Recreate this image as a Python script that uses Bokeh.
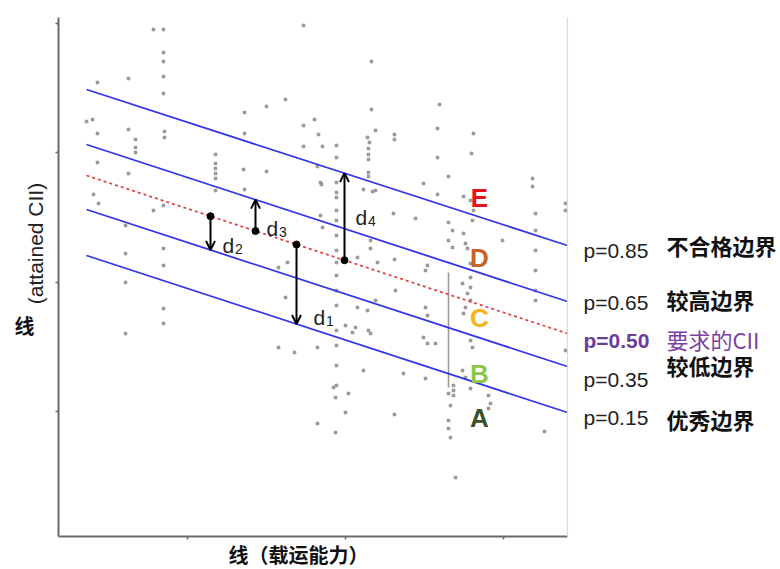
import numpy as np
from bokeh.plotting import figure
from bokeh.models import (Range1d, FixedTicker, CustomJSTickFormatter, LinearAxis,
                          Label, Arrow, OpenHead)
from bokeh.embed import file_html
from bokeh.resources import INLINE

# ---------------- data ----------------
x_ticks = [13.7, 29.5, 45.3]
y_ticks = [13.9, 26.8, 39.8, 52.7]
x_bounds = (0.8, 51.7)
y_bounds = (1.4, 53.3)

band_p = ["p=0.85", "p=0.65", "p=0.50", "p=0.35", "p=0.15"]
band_names = ["不合格边界", "较高边界", "要求的CII", "较低边界", "优秀边界"]
band_x = [3.6, 51.7]
band_y_left = [46.1, 40.6, 37.5, 34.1, 29.5]
band_y_right = [30.5, 24.9, 21.7, 18.4, 13.8]
band_p_y = [30.0, 24.8, 21.0, 17.1, 13.3]
band_name_y = [30.6, 25.2, 21.2, 18.6, 13.2]

# arrows: from the required line (index 2) to another band line
arrow_x = [16.0, 20.5, 24.6, 29.4]
arrow_to = [3, 1, 4, 0]
arrow_sub = ["2", "3", "1", "4"]
arrow_lbl_x = [17.2, 21.6, 26.3, 30.5]
arrow_lbl_y = [30.5, 32.2, 23.3, 33.3]

rating_letters = ["E", "D", "C", "B", "A"]
rating_colors = ["#e8121b", "#c5632a", "#f4b41a", "#8bc84a", "#37512a"]
rating_x = 42.9
rating_y = [35.3, 29.3, 23.3, 17.7, 13.3]

# dense column of ships (drawn as a thin vertical trace)
dense_x = 39.8
dense_y = [16.3, 27.8]

ship_x = [10.3, 11.3, 11.3, 11.3, 11.3, 11.3, 4.7, 7.8, 3.6, 4.2, 4.7, 7.8, 8.5, 8.5, 8.5,
          11.4, 11.4, 4.7, 7.8, 4.3, 16.5, 16.5, 16.5, 16.5, 16.5, 16.5, 19.4, 19.4, 21.6,
          23.5, 19.3, 21.6, 19.4, 25.3, 32.1, 32.1, 38.9, 26.4, 25.3, 26.8, 32.5, 34.4, 34.4,
          31.7, 31.9, 38.7, 42.3, 25.3, 27.2, 28.6, 31.8, 31.8, 31.8, 28.6, 38.7, 42.1, 26.7,
          31.8, 31.8, 39.8, 27.0, 27.1, 28.6, 28.6, 28.6, 31.3, 32.2, 32.5, 37.3, 38.7, 48.2,
          48.2, 41.3, 4.8, 7.5, 10.3, 11.3, 7.5, 11.3, 11.3, 7.5, 11.3, 11.3, 7.5, 22.8, 24.4,
          22.8, 23.7, 23.5,
          28.6, 28.6, 28.6, 28.6, 28.6, 28.6, 28.6, 28.6, 28.6, 28.6, 28.6, 28.6,
          27.0, 27.2, 32.0, 32.0, 34.3, 36.5, 32.7, 30.7, 34.4, 37.7, 37.5, 41.3, 41.5, 41.7,
          42.0, 41.2, 41.7, 42.0,
          48.5, 48.5, 48.5, 48.5, 48.5, 48.5,
          32.5, 34.5, 30.7, 31.7, 37.5, 37.7, 29.5, 30.2, 30.5, 31.8, 32.0, 26.7, 37.3, 38.5,
          42.0, 42.2, 41.2, 41.5, 35.3, 28.3, 28.5, 29.8, 31.3, 29.5, 26.7, 28.5, 34.4,
          39.8, 40.0, 39.8, 39.8, 40.0, 40.3, 40.3, 40.3, 40.5, 43.8, 43.8, 42.0, 49.4,
          42.0, 42.3, 42.2, 39.8, 40.2, 39.8, 40.2, 45.2, 51.5, 51.5, 37.7, 37.5, 42.0, 42.0,
          41.5, 41.3, 51.5, 44.0]
ship_y = [52.1, 52.1, 49.8, 48.9, 47.4, 45.7, 46.8, 47.2, 42.9, 43.1, 41.7, 42.1, 41.1, 40.3, 39.8,
          41.9, 41.3, 38.8, 37.7, 35.6, 39.6, 38.7, 38.2, 37.7, 37.2, 36.0, 43.8, 41.7, 44.4,
          45.1, 38.1, 37.9, 36.1, 52.5, 48.9, 44.1, 44.6, 43.1, 42.5, 41.6, 42.0, 41.6, 41.1,
          41.3, 40.8, 42.2, 41.7, 40.4, 40.4, 40.5, 40.2, 39.6, 39.1, 39.3, 39.3, 39.7, 38.4,
          37.8, 37.4, 37.4, 36.8, 36.6, 36.8, 35.8, 35.3, 36.1, 35.9, 36.0, 36.7, 35.6, 37.2,
          36.4, 35.4, 34.7, 32.5, 34.0, 34.5, 29.7, 30.2, 28.5, 26.8, 24.2, 22.7, 21.7, 20.3, 19.8,
          28.3, 28.8, 25.3,
          34.0, 33.0, 31.5, 30.0, 28.8, 27.5, 26.0, 24.5, 22.0, 20.5, 18.5, 16.5,
          33.5, 32.3, 31.0, 30.2, 33.7, 33.2, 28.8, 29.3, 29.1, 28.5, 28.0, 31.7, 30.7, 30.2,
          28.7, 26.7, 25.7, 25.0,
          33.7, 32.0, 30.0, 28.0, 26.0, 25.0,
          25.0, 26.0, 24.3, 24.0, 24.3, 23.5, 22.5, 21.8, 22.3, 22.0, 21.7, 20.3, 21.3, 20.7,
          21.0, 20.3, 18.0, 17.3, 17.7, 16.3, 15.3, 15.7, 18.0, 13.8, 12.7, 11.8, 13.6,
          15.7, 14.5, 13.0, 12.2, 11.3, 16.5, 16.0, 15.5, 7.3, 15.5, 14.2, 16.2, 11.9,
          35.0, 34.0, 33.0, 32.8, 32.0, 31.0, 30.3, 31.0, 34.7, 34.0, 20.7, 17.2, 27.3, 26.3,
          24.3, 23.7, 20.0, 14.7]

x_label = "线（载运能力）"
y_label_cn = "线"
y_label_en = "(attained CII)"

# ---------------- figure ----------------
# the frame covers the whole canvas so that texts beside the axes are not clipped;
# the axes are drawn at fixed data locations
W, H = 780, 569
p = figure(width=W, height=H, output_backend="svg", toolbar_location=None,
           x_range=Range1d(-5.0, 73.0), y_range=Range1d(-1.9, 55.0),
           min_border=0, title_location=None)
p.background_fill_color = "white"
p.border_fill_color = "white"
p.outline_line_color = None
p.xgrid.visible = False
p.ygrid.visible = False


def style_axis(ax, ticks, loc, bounds, color="#6a6a6a", width=2):
    ax.ticker = FixedTicker(ticks=ticks)
    ax.formatter = CustomJSTickFormatter(code="return ''")
    ax.fixed_location = loc
    ax.bounds = bounds
    ax.axis_line_color = color
    ax.axis_line_width = width
    ax.major_tick_line_color = "#6a6a6a"
    ax.major_tick_line_width = 1.5
    ax.major_tick_out = 3
    ax.major_tick_in = 0
    ax.minor_tick_line_color = None
    ax.major_label_standoff = 0


style_axis(p.xaxis[0], x_ticks, y_bounds[0], x_bounds)
style_axis(p.yaxis[0], y_ticks, x_bounds[0], y_bounds)
right_ax = LinearAxis()
p.add_layout(right_ax, "right")
style_axis(right_ax, [], x_bounds[1], y_bounds, color="#dadada", width=1.2)

# ships
p.scatter(ship_x, ship_y, size=2.6, marker="square", color="#8c8c8c", alpha=0.85)
p.segment(x0=[dense_x], y0=[dense_y[0]], x1=[dense_x], y1=[dense_y[1]],
          line_color="#9a9a9a", line_width=1.6)

# band lines
for i in range(5):
    ys = [band_y_left[i], band_y_right[i]]
    if i == 2:
        p.line(band_x, ys, line_color="#e04848", line_width=1.8, line_dash="3 3")
    else:
        p.line(band_x, ys, line_color="#3535e8", line_width=1.8)


def band_at(i, x):
    return float(np.interp(x, band_x, [band_y_left[i], band_y_right[i]]))


# arrows
sx, sy = [], []
for ax_, to in zip(arrow_x, arrow_to):
    y0 = band_at(2, ax_)
    y1 = band_at(to, ax_)
    sx.append(ax_)
    sy.append(y0)
    p.add_layout(Arrow(x_start=ax_, y_start=y0, x_end=ax_, y_end=y1,
                       line_color="black", line_width=2,
                       end=OpenHead(size=9, line_color="black", line_width=2)))
p.scatter(sx, sy, size=7, color="black")

for lx, ly, sub in zip(arrow_lbl_x, arrow_lbl_y, arrow_sub):
    p.add_layout(Label(x=lx, y=ly, text="d", text_font="Liberation Sans", text_font_size="21px",
                       text_color="#222222", text_baseline="alphabetic"))
    p.add_layout(Label(x=lx + 1.25, y=ly - 0.3, text=sub, text_font="Liberation Sans",
                       text_font_size="14px", text_color="#222222", text_baseline="alphabetic"))

# rating letters
for letter, col, ry in zip(rating_letters, rating_colors, rating_y):
    p.add_layout(Label(x=rating_x, y=ry, text=letter, text_font="Liberation Sans",
                       text_font_size="26px", text_font_style="bold", text_color=col,
                       text_align="center", text_baseline="alphabetic"))

# right-side labels
for i in range(5):
    purple = (i == 2)
    p.add_layout(Label(x=53.3, y=band_p_y[i], text=band_p[i], text_font="Liberation Sans",
                       text_font_size="21px", text_font_style="bold" if purple else "normal",
                       text_color="#6b3d99" if purple else "#222222",
                       text_baseline="middle"))
    p.add_layout(Label(x=61.6, y=band_name_y[i], text=band_names[i], text_font="Noto Sans CJK SC",
                       text_font_size="22px", text_font_style="normal" if purple else "bold",
                       text_color="#7e3f9f" if purple else "#111111",
                       text_baseline="middle"))

# axis titles
p.add_layout(Label(x=24.8, y=-1.85, text=x_label, text_font="Noto Sans CJK SC",
                   text_font_size="20px", text_font_style="bold", text_color="#111111",
                   text_align="center", text_baseline="bottom"))
p.add_layout(Label(x=-1.5, y=30.7, text=y_label_en, text_font="Liberation Sans",
                   text_font_size="21px", text_color="#222222", angle=np.pi / 2,
                   text_align="center", text_baseline="middle"))
p.add_layout(Label(x=-2.6, y=22.5, text=y_label_cn, text_font="Noto Sans CJK SC",
                   text_font_size="20px", text_font_style="bold", text_color="#111111",
                   text_align="center", text_baseline="middle"))

open("out.html", "w").write(file_html(p, INLINE))
